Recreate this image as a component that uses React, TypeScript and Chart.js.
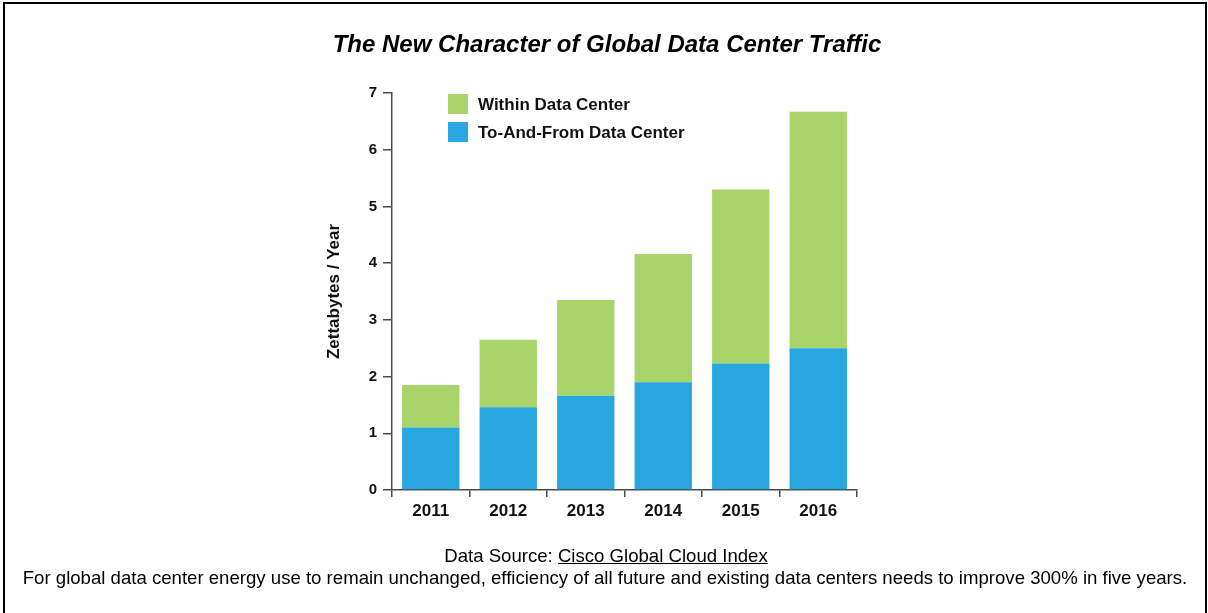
import React, { useEffect, useRef } from "react";
import { Chart, registerables } from "chart.js";

Chart.register(...registerables);

const years = ["2011", "2012", "2013", "2014", "2015", "2016"];
const toAndFromDC = [1.1, 1.46, 1.66, 1.9, 2.23, 2.5];
const withinDC = [0.75, 1.19, 1.69, 2.26, 3.07, 4.17];
const yTickValues = [0, 1, 2, 3, 4, 5, 6, 7];
const seriesNames = ["To-And-From Data Center", "Within Data Center"];
const seriesColors = ["#27A6E0", "#A8D46A"];
const titleText = "The New Character of Global Data Center Traffic";
const yAxisTitle = "Zettabytes / Year";
const sourceLabel = "Data Source: ";
const sourceLink = "Cisco Global Cloud Index";
const footnote =
  "For global data center energy use to remain unchanged, efficiency of all future and existing data centers needs to improve 300% in five years.";

const FONT = '"Liberation Sans", Arial, sans-serif';
const AXIS = "#4a4a4a";

const insideLegend = {
  id: "insideLegend",
  afterDraw(chart: any) {
    const { ctx, chartArea } = chart;
    const ds = chart.data.datasets.slice().reverse();
    ctx.save();
    ds.forEach((d: any, i: number) => {
      const x = chartArea.left + 56;
      const y = chartArea.top + 1 + i * 28;
      ctx.fillStyle = d.backgroundColor;
      ctx.fillRect(x, y, 20, 20);
      ctx.fillStyle = "#111";
      ctx.font = `bold 17px ${FONT}`;
      ctx.textBaseline = "middle";
      ctx.textAlign = "left";
      ctx.fillText(d.label, x + 30, y + 11);
    });
    ctx.restore();
  },
};

export default function App() {
  const ref = useRef<HTMLCanvasElement | null>(null);

  useEffect(() => {
    if (!ref.current) return;
    const chart = new Chart(ref.current, {
      type: "bar",
      data: {
        labels: years,
        datasets: [
          {
            label: seriesNames[0],
            data: toAndFromDC,
            backgroundColor: seriesColors[0],
            barPercentage: 0.74,
            categoryPercentage: 1,
          },
          {
            label: seriesNames[1],
            data: withinDC,
            backgroundColor: seriesColors[1],
            barPercentage: 0.74,
            categoryPercentage: 1,
          },
        ],
      },
      options: {
        responsive: false,
        animation: false,
        layout: { padding: { left: 300, right: 351, top: 93, bottom: 83 } },
        plugins: {
          legend: { display: false },
          tooltip: { enabled: false },
          title: { display: false },
        },
        scales: {
          x: {
            stacked: true,
            offset: true,
            grid: {
              offset: true,
              drawOnChartArea: false,
              tickLength: 7,
              color: AXIS,
              lineWidth: 1.5,
            },
            border: { color: AXIS, width: 1.5 },
            ticks: {
              color: "#111",
              font: { family: FONT, weight: "bold", size: 17 },
              padding: 4,
            },
            afterFit: (s: any) => {
              s.height = 40;
            },
          },
          y: {
            stacked: true,
            min: 0,
            max: 7,
            afterBuildTicks: (s: any) => {
              s.ticks = yTickValues.map((v) => ({ value: v }));
            },
            grid: {
              drawOnChartArea: false,
              tickLength: 9,
              color: AXIS,
              lineWidth: 1.5,
            },
            border: { color: AXIS, width: 1.5 },
            ticks: {
              color: "#111",
              font: { family: FONT, weight: "bold", size: 15 },
              padding: 6,
            },
            title: {
              display: true,
              text: yAxisTitle,
              color: "#111",
              font: { family: FONT, weight: "bold", size: 17 },
              padding: { top: 24, bottom: 0 },
            },
            afterFit: (s: any) => {
              s.width = 92;
            },
          },
        },
      },
      plugins: [insideLegend],
    } as any);
    return () => chart.destroy();
  }, []);

  return (
    <div
      style={{
        position: "fixed",
        left: 0,
        top: 0,
        width: 1208,
        height: 613,
        background: "#fff",
        overflow: "hidden",
        fontFamily: FONT,
      }}
    >
      <canvas
        ref={ref}
        width={1208}
        height={613}
        style={{ position: "absolute", left: 0, top: 0 }}
      />
      <div
        style={{
          position: "absolute",
          left: 0,
          top: 30,
          width: 1214,
          textAlign: "center",
          fontSize: 24,
          lineHeight: "28px",
          fontWeight: "bold",
          fontStyle: "italic",
          color: "#000",
        }}
      >
        {titleText}
      </div>
      <div
        style={{
          position: "absolute",
          left: 0,
          top: 545,
          width: 1212,
          textAlign: "center",
          fontSize: 18.6,
          lineHeight: "22px",
          color: "#000",
        }}
      >
        {sourceLabel}
        <span style={{ textDecoration: "underline" }}>{sourceLink}</span>
      </div>
      <div
        style={{
          position: "absolute",
          left: 0,
          top: 567,
          width: 1210,
          textAlign: "center",
          fontSize: 18.6,
          lineHeight: "22px",
          color: "#000",
          whiteSpace: "nowrap",
        }}
      >
        {footnote}
      </div>
      <div
        style={{
          position: "absolute",
          left: 3,
          top: 2,
          width: 1204,
          height: 700,
          border: "2px solid #000",
          boxSizing: "border-box",
          pointerEvents: "none",
        }}
      />
    </div>
  );
}
